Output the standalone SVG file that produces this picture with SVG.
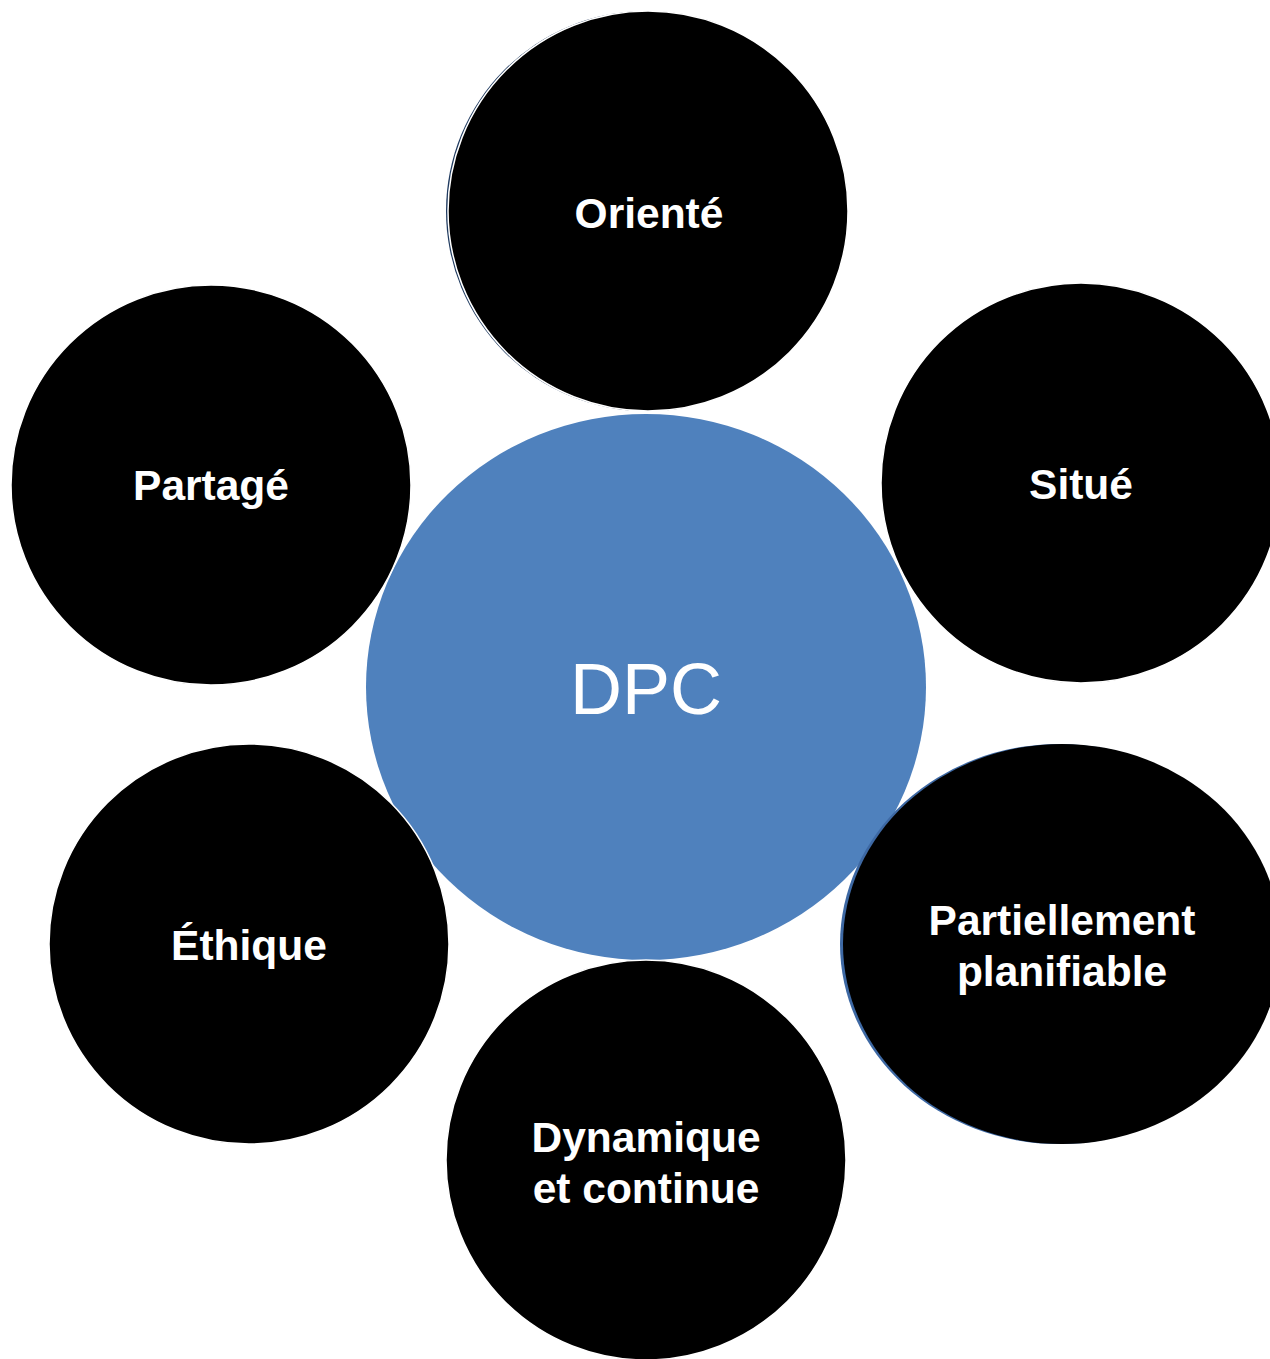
<svg xmlns="http://www.w3.org/2000/svg" width="1270" height="1359" viewBox="0 0 1270 1359">
<style>
.bub{fill:#000;stroke:#fff;stroke-width:1.5}
.lbl{font-family:"Liberation Sans",Arial,sans-serif;font-weight:bold;font-size:42.5px;fill:#fff;text-anchor:middle}
.main{font-family:"Liberation Sans",Arial,sans-serif;font-size:72px;fill:#fff;text-anchor:middle}
</style>
<rect width="1270" height="1359" fill="#fff"/>
<g id="connectors"></g>
<g id="dpc">
<ellipse cx="646" cy="687" rx="280" ry="273" fill="#4f81bd"/>
<text class="main" x="646" y="714">DPC</text>
</g>
<g id="oriente">
<circle cx="646" cy="211" r="200" fill="#1f3a5f"/>
<circle class="bub" cx="648" cy="211" r="200" stroke="none"/>
<text class="lbl" x="649" y="228">Orienté</text>
</g>
<g id="situe">
<circle class="bub" cx="1081" cy="483" r="200"/>
<text class="lbl" x="1081" y="499">Situé</text>
</g>
<g id="partiellement">
<ellipse cx="1059" cy="944" rx="219" ry="200" fill="#3d68a3"/>
<ellipse cx="1062" cy="944" rx="219" ry="200" fill="#000"/>
<text class="lbl" x="1062" y="935">Partiellement</text>
<text class="lbl" x="1062" y="986">planifiable</text>
</g>
<g id="dynamique">
<circle class="bub" cx="646" cy="1160" r="200"/>
<text class="lbl" x="646" y="1152">Dynamique</text>
<text class="lbl" x="646" y="1203">et continue</text>
</g>
<g id="ethique">
<circle class="bub" cx="249" cy="944" r="200"/>
<text class="lbl" x="249" y="960">Éthique</text>
</g>
<g id="partage">
<circle class="bub" cx="211" cy="485" r="200"/>
<text class="lbl" x="211" y="500">Partagé</text>
</g>
</svg>
